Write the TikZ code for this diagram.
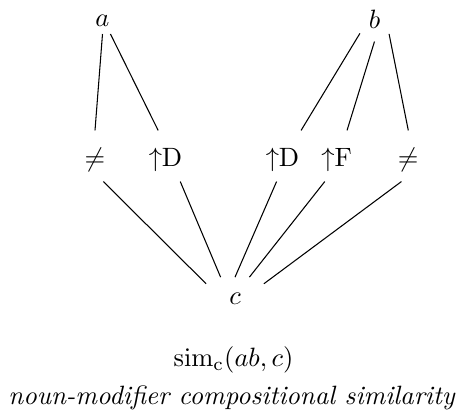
\documentclass[tikz,border=0pt]{standalone}
\begin{document}
\begin{tikzpicture}[x=0.3774pt,y=-0.3774pt,
	word/.style={inner sep=2.45pt},
	wordb/.style={inner sep=0pt,minimum width=10.6pt,minimum height=16pt},
	feat/.style={inner sep=0pt,minimum width=19pt,minimum height=18.9pt,text height=8.8pt,text depth=.7pt},
	wordc/.style={inner sep=0pt,minimum width=21.4pt,minimum height=15.7pt}]
	\useasboundingbox (0,0) rectangle (462,420);

	\node[word] (a) at (102.5,21.3){$a$};
	\node[wordb] (b) at (374.5,19.8){$b$};

	\node[feat] (neqa) at (95,156){$\neq$};
	\node[feat] (upda) at (165.5,156){$\uparrow$D};
	\node[feat] (updb) at (282.5,156){$\uparrow$D};
	\node[feat] (upfb) at (336.7,156){$\uparrow$F};
	\node[feat] (neqb) at (408.3,156){$\neq$};

	\node[wordc] (c) at (235,298.5){$c$\hspace{4.7pt}};

	\draw (a.south) -- (neqa.north);
	\draw (a.-58) -- (upda.106);
	\draw (b.223) -- (updb.54);
	\draw (b.south) -- (upfb.68);
	\draw (b.-44) -- (neqb.north);

	\draw (neqa.-72) -- (c.153);
	\draw (upda.-60) -- (c.124);
	\draw (updb.-103) -- (c.north);
	\draw (upfb.-115) -- (c.56);
	\draw (neqb.-105) -- (c.27);

	\node[anchor=base] (sim) at (233.5,366.5){$\mathrm{sim}_{\mathrm{c}}(ab,c)$};
	\node[anchor=base] (caption) at (232,405){\textit{noun-modifier compositional similarity}};
\end{tikzpicture}
\end{document}
